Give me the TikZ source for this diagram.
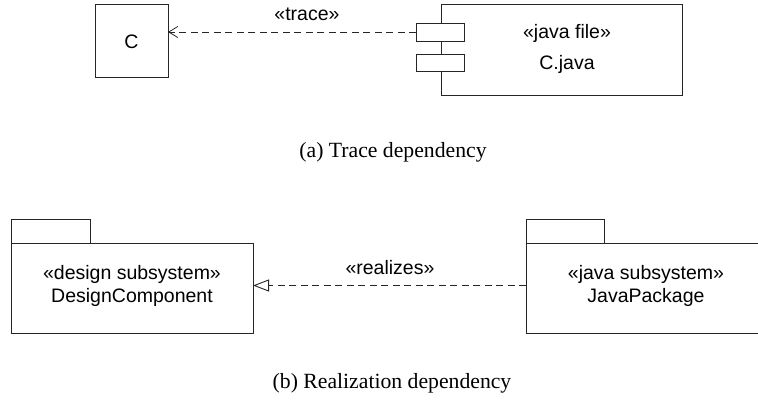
\documentclass[tikz,border=0pt]{standalone}
\usepackage{fontspec}
\setmainfont{Liberation Serif}
\newfontfamily\umlfont{Liberation Sans}
\usetikzlibrary{arrows.meta}

\tikzset{
  umlline/.style={draw=black!85, line width=0.9pt},
  umlbox/.style={umlline, fill=white, inner sep=0pt, outer sep=0pt},
  umltext/.style={font=\umlfont\fontsize{19.5}{22}\selectfont, align=center, inner sep=0pt},
  captiontext/.style={font=\fontsize{21.7}{24}\selectfont, inner sep=0pt},
  depline/.style={umlline, dash pattern=on 7pt off 4.5pt},
  tracehead/.style={-{Straight Barb[length=9pt,width=11pt,line width=0.8pt]}},
  realhead/.style={-{Triangle[open,length=16pt,width=12pt,line width=0.9pt,fill=white]}},
}

\begin{document}
\begin{tikzpicture}[x=1pt,y=-1pt]
  \useasboundingbox (0,0) rectangle (758,405);

  % (a) trace dependency between class C and its java file
  \node[umlbox, minimum width=73pt, minimum height=73pt] (classC) at (131.5,40.5) {};
  \node[umltext] (classClabel) at (131.5,41.5) {C};

  \node[umlbox, minimum width=241pt, minimum height=91pt] (cfile) at (561.5,49.5) {};
  \node[umlbox, minimum width=48pt, minimum height=18pt] (portA) at (440,32) {};
  \node[umlbox, minimum width=48pt, minimum height=17pt] (portB) at (440,62.5) {};
  \node[umltext] (cfilelabel) at (567,49) {«java file»\\[9pt]C.java};

  \coordinate (traceend) at (407,32);
  \draw[depline, tracehead] (portA.west) -- (traceend) -- (classC.east |- traceend);
  \node[umltext] (tracelabel) at (307,14) {«trace»};

  \node[captiontext] (capa) at (393,152) {(a) Trace dependency};

  % (b) realization dependency between two subsystems
  \node[umlbox, minimum width=79pt, minimum height=24pt] (designtab) at (50.5,231) {};
  \node[umlbox, minimum width=242pt, minimum height=90pt] (design) at (132,288) {};
  \node[umltext] (designlabel) at (132,286) {«design subsystem»\\[1pt]DesignComponent};

  \node[umlbox, minimum width=78pt, minimum height=24pt] (javatab) at (565,231) {};
  \coordinate (javatopright) at (760,243);
  \coordinate (javabotright) at (760,333);
  \draw[umlline] (javatopright) -- (javatab.south west) -- (526,333) -- (javabotright);
  \coordinate (javaleft) at (526,285.5);
  \node[umltext] (javalabel) at (646,286) {«java subsystem»\\[1pt]JavaPackage};

  \draw[depline, realhead] (javaleft) -- (design.east |- javaleft);
  \node[umltext] (realizeslabel) at (390,268) {«realizes»};

  \node[captiontext] (capb) at (392,383) {(b) Realization dependency};
\end{tikzpicture}
\end{document}
